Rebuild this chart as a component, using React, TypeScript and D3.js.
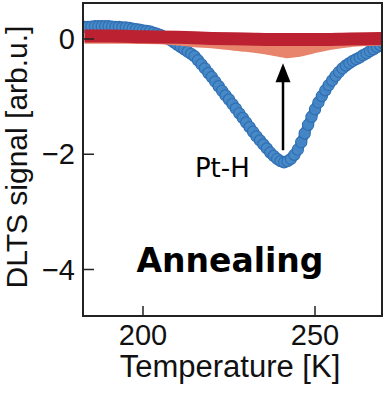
import * as d3 from "d3";

// temperature grid [K] shared by the blue scan
const temps = d3.range(183, 271);

// before annealing (Pt-H peak), one value per kelvin, 183..270
const ptH = [
  0.21, 0.21, 0.215, 0.22, 0.22, 0.22, 0.22, 0.22, 0.215, 0.21,
  0.21, 0.2, 0.2, 0.19, 0.18, 0.17, 0.16, 0.15, 0.14, 0.13,
  0.11, 0.09, 0.07, 0.04, 0.01, -0.02, -0.06, -0.1, -0.14, -0.18,
  -0.22, -0.26, -0.3, -0.37, -0.44, -0.51, -0.59, -0.66, -0.74, -0.82,
  -0.9, -0.98, -1.05, -1.13, -1.21, -1.29, -1.37, -1.45, -1.53, -1.61,
  -1.69, -1.76, -1.83, -1.9, -1.97, -2.03, -2.08, -2.12, -2.14, -2.12,
  -2.08, -2.01, -1.92, -1.79, -1.64, -1.49, -1.35, -1.22, -1.1, -0.99,
  -0.89, -0.8, -0.72, -0.64, -0.57, -0.51, -0.46, -0.42, -0.38, -0.35,
  -0.32, -0.28, -0.25, -0.21, -0.18, -0.14, -0.11, -0.08,
];

// partially annealed
const midT = [183, 195, 205, 210, 215, 220, 225, 230, 235, 240, 242, 245, 250, 255, 260, 265, 270];
const midV = [0.03, 0.03, 0.02, 0.0, -0.03, -0.05, -0.08, -0.11, -0.15, -0.2, -0.22, -0.2, -0.13, -0.07, -0.03, -0.01, 0.0];

// fully annealed
const endT = [183, 190, 200, 210, 220, 230, 240, 250, 260, 270];
const endV = [0.05, 0.05, 0.04, 0.03, 0.01, 0.0, -0.01, -0.01, 0.0, 0.01];

const xTicks = [200, 250];
const yTicks = [0, -2, -4];

const W = 388;
const H = 394;
const frame = { left: 83, right: 382, top: 3, bottom: 316 };

const arrowT = 240.7;
const arrowFrom = -1.93;
const arrowTo = -0.42;

export default function App() {
  const x = d3.scaleLinear().domain([200, 250]).range([143, 315]);
  const y = d3.scaleLinear().domain([0, -4]).range([39, 269.5]);

  const line = d3
    .line<[number, number]>()
    .x((d) => x(d[0]))
    .y((d) => y(d[1]))
    .curve(d3.curveMonotoneX);

  const bluePath = line(temps.map((t, i) => [t, ptH[i]]));
  const midPath = line(midT.map((t, i) => [t, midV[i]]));
  const endPath = line(endT.map((t, i) => [t, endV[i]]));

  const ax = x(arrowT);
  const tipY = y(arrowTo);
  const font = "'Liberation Sans', Arial, sans-serif";

  return (
    <svg
      width={W}
      height={H}
      style={{ position: "absolute", left: 0, top: 0, background: "#fff" }}
    >
      <defs>
        <clipPath id="plot">
          <rect
            x={frame.left}
            y={frame.top}
            width={frame.right - frame.left}
            height={frame.bottom - frame.top}
          />
        </clipPath>
      </defs>

      <g clipPath="url(#plot)">
        <path d={bluePath!} fill="none" stroke="#3878bb" strokeWidth={10} />
        {temps.map((t, i) => (
          <circle
            key={t}
            cx={x(t)}
            cy={y(ptH[i])}
            r={5.6}
            fill="#4a8bc9"
            fillOpacity={0.7}
            stroke="#2f6fb3"
            strokeWidth={1.2}
          />
        ))}
        <path d={midPath!} fill="none" stroke="#e8846c" strokeWidth={13} />
        <path d={endPath!} fill="none" stroke="#bb2130" strokeWidth={13} />
      </g>

      {/* arrow */}
      <line x1={ax} x2={ax} y1={y(arrowFrom)} y2={tipY + 15} stroke="#000" strokeWidth={2.5} />
      <polygon
        points={`${ax},${tipY} ${ax - 7.5},${tipY + 19} ${ax + 7.5},${tipY + 19}`}
        fill="#000"
      />

      <text x={x(215.1)} y={y(-2.4)} fontFamily="'DejaVu Sans', Verdana, sans-serif" fontSize={26}>
        Pt-H
      </text>
      <text
        x={x(225.3)}
        y={y(-4.05)}
        textAnchor="middle"
        fontFamily="'DejaVu Sans', Verdana, sans-serif"
        fontWeight="bold"
        fontSize={33}
      >
        Annealing
      </text>

      {/* frame */}
      <rect
        x={frame.left}
        y={frame.top}
        width={frame.right - frame.left}
        height={frame.bottom - frame.top}
        fill="none"
        stroke="#222"
        strokeWidth={2}
      />

      {xTicks.map((t) => (
        <g key={t}>
          <line x1={x(t)} x2={x(t)} y1={frame.bottom} y2={frame.bottom - 10} stroke="#222" strokeWidth={1.5} />
          <text x={x(t)} y={345} textAnchor="middle" fontFamily={font} fontSize={29} fill="#111">
            {t}
          </text>
        </g>
      ))}
      {yTicks.map((t) => (
        <g key={t}>
          <line x1={frame.left} x2={frame.left + 11} y1={y(t)} y2={y(t)} stroke="#222" strokeWidth={1.5} />
          <text
            x={75}
            y={y(t)}
            dy="0.35em"
            textAnchor="end"
            fontFamily={font}
            fontSize={29}
            fill="#111"
          >
            {t < 0 ? `\u2212${Math.abs(t)}` : t}
          </text>
        </g>
      ))}

      <text x={230} y={377} textAnchor="middle" fontFamily={font} fontSize={31} fill="#111">
        Temperature [K]
      </text>
      <text
        transform="translate(27,157) rotate(-90)"
        textAnchor="middle"
        fontFamily={font}
        fontSize={30}
        fill="#111"
      >
        DLTS signal [arb.u.]
      </text>
    </svg>
  );
}
